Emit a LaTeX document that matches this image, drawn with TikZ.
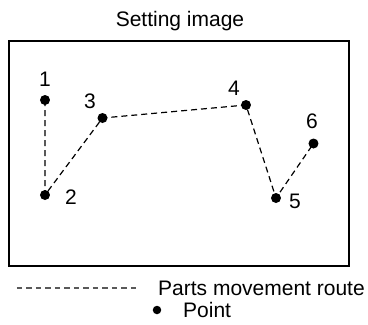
\documentclass[tikz,border=0pt]{standalone}
\usepackage{fontspec}
\setmainfont{Liberation Sans}
\begin{document}
\begin{tikzpicture}[x=1pt,y=-1pt,
  pt/.style={circle,fill=black,inner sep=0pt,minimum size=10pt},
  lbl/.style={inner sep=0pt,font=\fontsize{21}{24}\selectfont},
  route/.style={dash pattern=on 6pt off 4pt,line width=1.2pt},
  legendline/.style={dash pattern=on 5.5pt off 4pt,line width=1.2pt,draw=black!65},
  frame/.style={draw=black,line width=1.1pt}]
\useasboundingbox (0,0) rectangle (368,325);
\draw[frame] (9,41) rectangle (349,266);
\node[lbl] (title) at (180,21) {Setting image};
\node[pt] (p1) at (45,100) {};
\node[pt] (p2) at (45,195) {};
\node[pt] (p3) at (102.5,118) {};
\node[pt] (p4) at (246,105) {};
\node[pt] (p5) at (276,198) {};
\node[pt] (p6) at (313.5,143.5) {};
\node[lbl] (l1) at (45,79) {1};
\node[lbl] (l2) at (71,197) {2};
\node[lbl] (l3) at (90,101) {3};
\node[lbl] (l4) at (234,88) {4};
\node[lbl] (l5) at (295,201) {5};
\node[lbl] (l6) at (312,121) {6};
\draw[route] (p1.center) -- (p2.center) -- (p3.center) -- (p4.center) -- (p5.center) -- (p6.center);
\coordinate (la) at (17,288);
\coordinate (lb) at (137,288);
\draw[legendline] (la) -- (lb);
\node[lbl,anchor=west] (t1) at (158,288) {Parts movement route};
\node[pt,minimum size=8.5pt] (lp) at (157,310) {};
\node[lbl,anchor=west] (t2) at (183,310) {Point};
\end{tikzpicture}
\end{document}
